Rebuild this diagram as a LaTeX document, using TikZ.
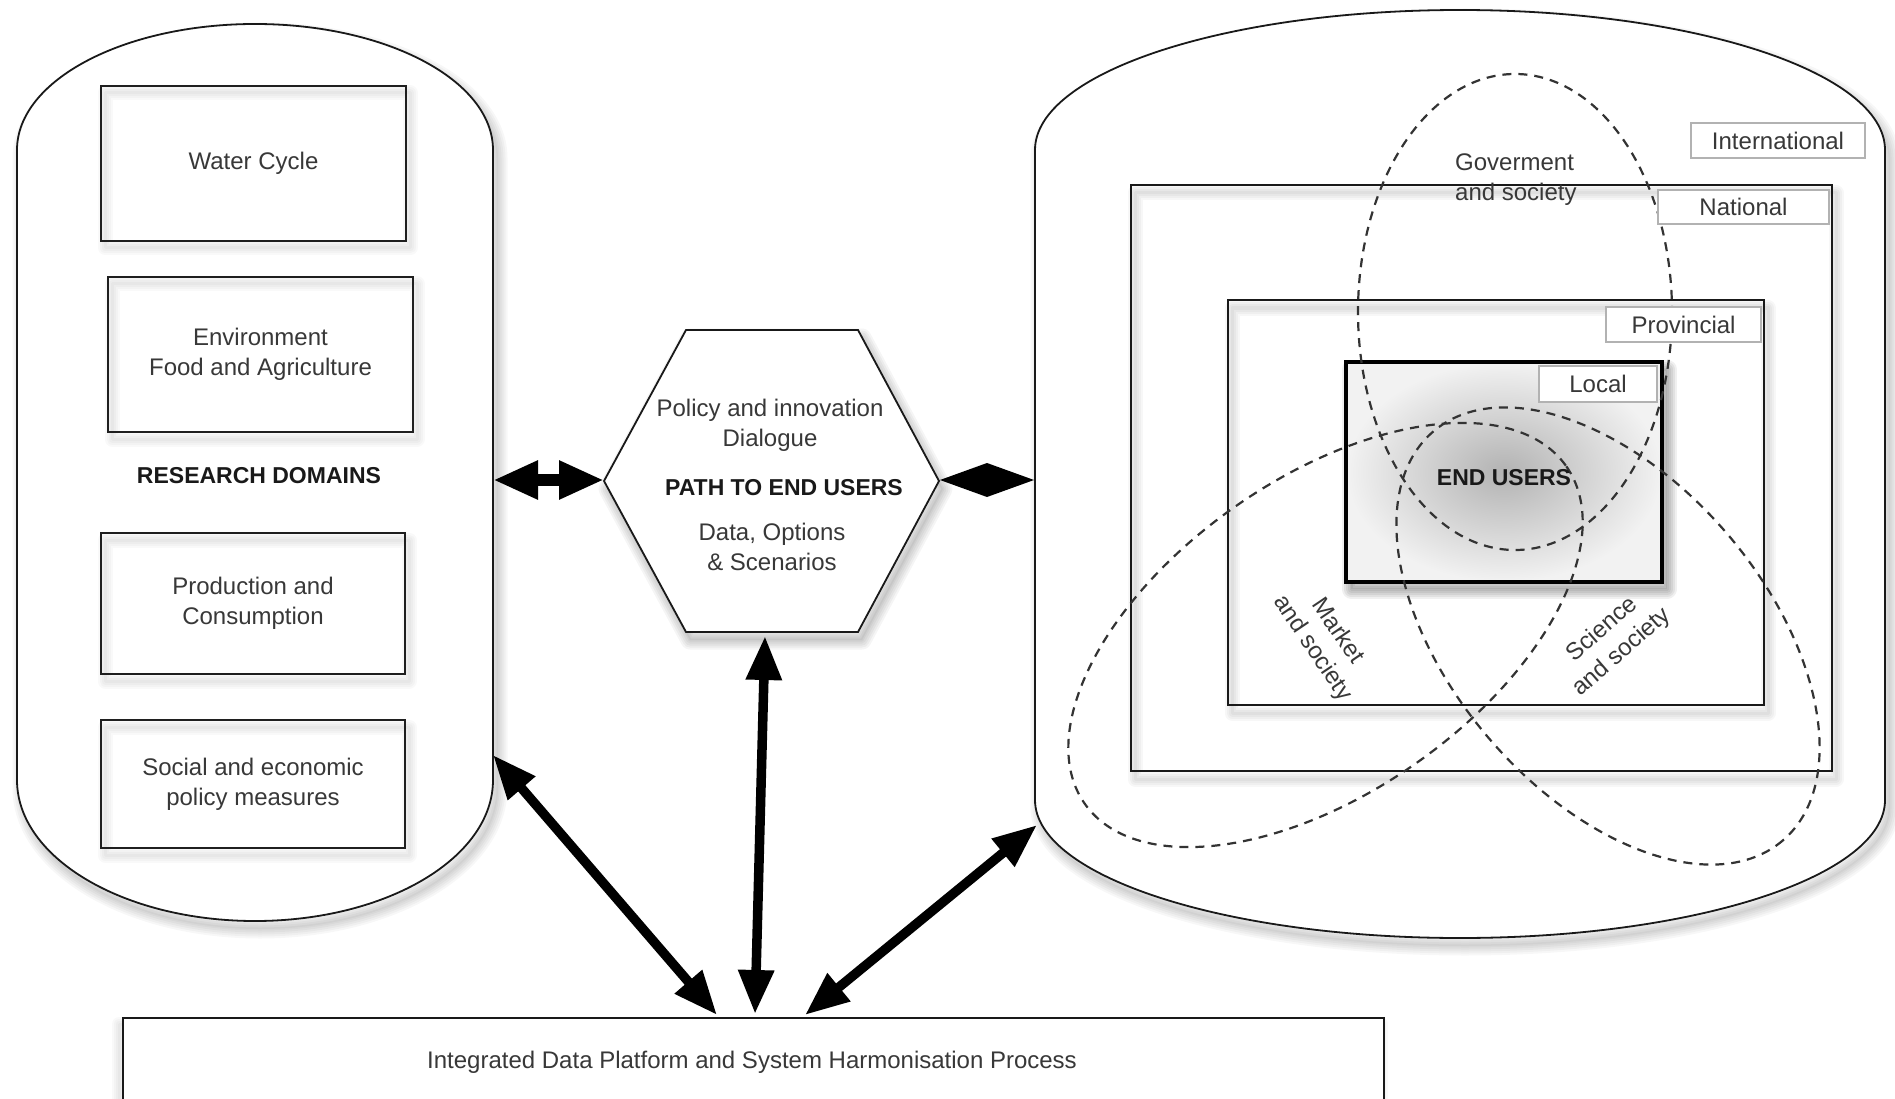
\documentclass[tikz,border=0pt]{standalone}
\usepackage{fontspec}
\setmainfont{Liberation Sans}
\usetikzlibrary{arrows.meta}
\newcommand\softshadow[3]{%
  \foreach \w in {3,7,11,15,19}{\draw[black,opacity=#2,line width=\w pt,line join=round,shift={#3}] #1;}
  \fill[black,opacity=#2,shift={#3}] #1;
}
\newcommand\lineshadow[3]{%
  \foreach \w in {3,7,11,15}{\draw[black,opacity=#2,line width=\w pt,line join=round,shift={#3}] #1;}
}
\def\leftcap{(17,150) .. controls (17,80.4) and (123.6,24) .. (255,24) .. controls (386.4,24) and (493,80.4) .. (493,150) -- (493,780) .. controls (493,857.9) and (386.4,921) .. (255,921) .. controls (123.6,921) and (17,857.9) .. (17,780) -- cycle}
\def\rightcap{(1035,150) .. controls (1035,72.7) and (1225.3,10) .. (1460,10) .. controls (1694.7,10) and (1885,72.7) .. (1885,150) -- (1885,800) .. controls (1885,876.2) and (1694.7,938) .. (1460,938) .. controls (1225.3,938) and (1035,876.2) .. (1035,800) -- cycle}
\def\hexpath{(604,481) -- (686,330) -- (858,330) -- (939,481) -- (858,632) -- (686,632) -- cycle}
\begin{document}
\begin{tikzpicture}[x=1pt,y=-1pt,
  txt/.style={text=black!78,font=\fontsize{24}{30}\selectfont,align=center,inner sep=0pt},
  btxt/.style={text=black!90,font=\fontsize{23}{28}\selectfont\bfseries,inner sep=0pt},
  dbox/.style={draw=black!88,line width=2pt},
  lvl/.style={draw=black!90,line width=2pt},
  lbl/.style={draw=black!30,line width=1.5pt,fill=white},
  venn/.style={draw=black!80,line width=2.2pt,dash pattern=on 9pt off 7pt},
  bigarrow/.style={line width=9.5pt,{Triangle[length=44pt,width=34pt]}-{Triangle[length=44pt,width=34pt]}},
]
\useasboundingbox (0,0) rectangle (1895,1099);
\fill[white] (0,0) rectangle (1895,1099);

% capsules and hexagon with soft shadows
\softshadow{\leftcap}{0.03}{(5,8)}
\softshadow{\rightcap}{0.03}{(5,8)}
\softshadow{\hexpath}{0.04}{(4,8)}
\draw[black!90,line width=1.8pt,fill=white] \leftcap;
\draw[black!90,line width=1.8pt,fill=white] \rightcap;
\draw[black!90,line width=1.8pt,fill=white] \hexpath;

% connection points
\coordinate (lcE) at (493,480);
\coordinate (lcSE) at (493,755);
\coordinate (hxW) at (604,480);
\coordinate (hxE) at (940,480);
\coordinate (hxS) at (765,636);
\coordinate (rcW) at (1034,480);
\coordinate (dmT) at (987,463);
\coordinate (dmB) at (987,497);
\coordinate (rcSW) at (1037,825);
\coordinate (ipA) at (717,1015);
\coordinate (ipB) at (755,1014);
\coordinate (ipC) at (805,1015);

% research domains
\lineshadow{(101,86) rectangle (406,241)}{0.025}{(4,7)}
\lineshadow{(108,277) rectangle (413,432)}{0.025}{(4,7)}
\lineshadow{(101,533) rectangle (405,674)}{0.025}{(4,7)}
\lineshadow{(101,720) rectangle (405,848)}{0.025}{(4,7)}
\node[dbox,txt,minimum width=305pt,minimum height=155pt] (water) at (253.5,163.5) {Water Cycle};
\node[dbox,txt,minimum width=305pt,minimum height=155pt] (env) at (260.5,354.5) {Environment\\Food and Agriculture};
\node[btxt] (rd) at (259,476) {RESEARCH DOMAINS};
\node[dbox,txt,minimum width=304pt,minimum height=141pt] (prod) at (253,603.5) {Production and\\Consumption};
\node[dbox,txt,minimum width=304pt,minimum height=128pt] (soc) at (253,784) {Social and economic\\policy measures};

% hexagon texts
\node[txt] (pol) at (770,425) {Policy and innovation\\Dialogue};
\node[btxt] (path) at (784,488) {PATH TO END USERS};
\node[txt] (dat) at (772,547) {Data, Options\\\&\ Scenarios};

% levels
\lineshadow{(1131,185) rectangle (1832,771)}{0.03}{(4,8)}
\lineshadow{(1228,300) rectangle (1764,705)}{0.03}{(4,8)}
\draw[lvl] (1131,185) rectangle (1832,771);
\draw[lvl] (1228,300) rectangle (1764,705);
\softshadow{(1346,362) rectangle (1662,582)}{0.06}{(5,7)}
\shade[inner color=black!30,outer color=black!5] (1346,362) rectangle (1662,582);
\draw[black,line width=4.5pt] (1346,362) rectangle (1662,582);

% dashed ellipses
\draw[venn] (1515,312) ellipse [x radius=157,y radius=238];
\draw[venn,rotate around={35:(1325.5,635)}] (1325.5,635) ellipse [x radius=294,y radius=157];
\draw[venn,rotate around={-49.5:(1608,636)}] (1608,636) ellipse [x radius=269,y radius=157];

% level labels
\node[lbl,txt,minimum width=174pt,minimum height=35pt] (intl) at (1778,140.5) {International};
\node[lbl,txt,minimum width=171pt,minimum height=34pt] (natl) at (1743.5,207) {National};
\node[lbl,txt,minimum width=155pt,minimum height=35pt] (prov) at (1683.5,324.5) {Provincial};
\node[lbl,txt,minimum width=118pt,minimum height=36pt] (locl) at (1598,384) {Local};

\node[btxt] (endu) at (1504,478) {END USERS};
\node[txt,align=left,anchor=west] (gov) at (1455,180) {Goverment\\and society};
\node[txt,rotate=-56] (mkt) at (1325,640) {Market\\and society};
\node[txt,rotate=41] (sci) at (1612,641) {Science\\and society};

% integrated platform
\lineshadow{(123,1018) rectangle (1384,1120)}{0.025}{(-4,6)}
\draw[black!90,line width=2.5pt,fill=white] (123,1018) rectangle (1384,1120);
\node[txt] (idp) at (752,1062) {Integrated Data Platform and System Harmonisation Process};

% arrows
\draw[line width=12pt,{Triangle[length=45pt,width=36pt]}-{Triangle[length=45pt,width=36pt]}] (lcE) -- (hxW);
\fill[black] (hxE) -- (dmT) -- (rcW) -- (dmB) -- cycle;
\draw[bigarrow] (lcSE) -- (ipA);
\draw[bigarrow] (hxS) -- (ipB);
\draw[bigarrow] (rcSW) -- (ipC);
\end{tikzpicture}
\end{document}
